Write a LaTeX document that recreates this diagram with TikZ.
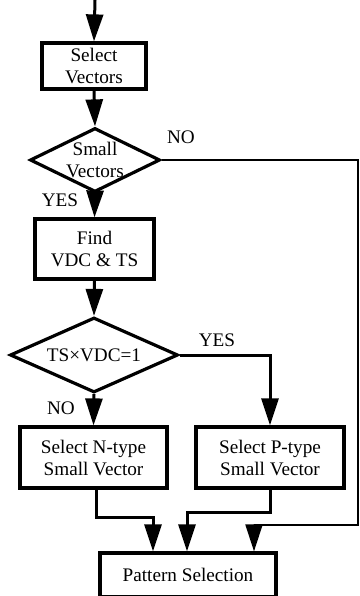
\documentclass[tikz,border=0pt]{standalone}
\usepackage{fontspec}
\setmainfont{Liberation Serif}
\usetikzlibrary{arrows.meta,shapes.geometric}
\begin{document}
\begin{tikzpicture}[x=1pt,y=-1pt,
	font=\fontsize{19.2}{22}\selectfont,
	box/.style={draw,line width=3.2pt,rectangle,inner sep=0pt,align=center},
	decision/.style={draw,line width=3.2pt,diamond,inner sep=0pt},
	arr/.style={line width=3pt,-{Triangle[length=27pt,width=17pt]}},
	feed/.style={line width=2pt,-{Triangle[length=27pt,width=17pt]}}]
	\useasboundingbox (0,0) rectangle (359,596);
	%\draw[lightgray,step=20pt] (0,0) grid (359,596);
	\coordinate (start) at (95,0);
	\node[box,minimum width=104pt,minimum height=46pt] (sv) at (94,66) {Select\\Vectors};
	\node[decision,minimum width=130pt,minimum height=64pt] (d1) at (95,160) {};
	\node[align=center,inner sep=0pt] (d1t) at (d1) {Small\\Vectors};
	\node[box,minimum width=119pt,minimum height=60pt] (fd) at (94.5,249) {Find\\VDC \& TS};
	\node[decision,minimum width=168pt,minimum height=75pt] (d2) at (94,355) {};
	\node[inner sep=0pt] (d2t) at (d2) {TS×VDC=1};
	\node[box,minimum width=147pt,minimum height=61pt] (nb) at (93.5,457.5) {Select N-type\\Small Vector};
	\node[box,minimum width=148pt,minimum height=61pt] (pb) at (270,457.5) {Select P-type\\Small Vector};
	\node[box,minimum width=176pt,minimum height=44pt] (ps) at (188,575) {Pattern Selection};
	% labels
	\node (no1) at (181,137) {NO};
	\node (yes1) at (60,200) {YES};
	\node (yes2) at (217,340) {YES};
	\node (no2) at (61,408) {NO};
	% connectors
	\draw[arr] (start) -- (sv.north);
	\draw[arr] (sv.south) -- (d1.north);
	\draw[arr] (d1.south) -- (fd.north);
	\draw[feed] (d1.east) -| (358,525) -| ([xshift=66pt]ps.north);
	\draw[arr] (fd.south) -- (d2.north);
	\draw[arr] (d2.east) -| (pb.north);
	\draw[arr] (d2.south) -- (nb.north);
	\draw[arr] ([xshift=3pt]nb.south) -- ++(0,28) -| ([xshift=-35pt]ps.north);
	\draw[arr] (pb.south) -- ++(0,23) -| ([xshift=-1pt]ps.north);
\end{tikzpicture}
\end{document}
